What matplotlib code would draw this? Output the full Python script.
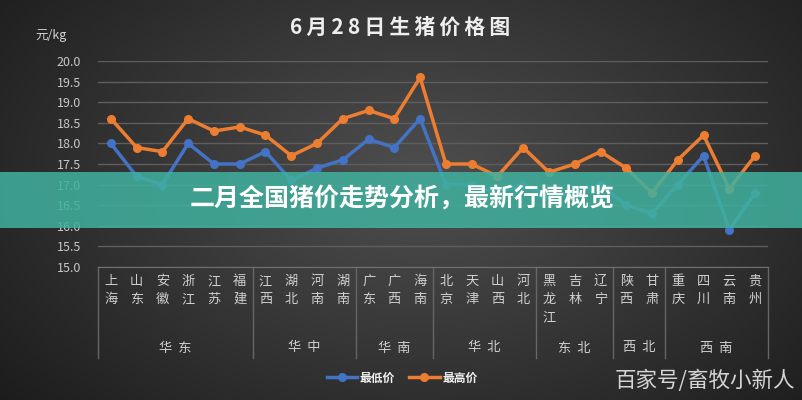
import matplotlib
matplotlib.use("Agg")
import matplotlib.pyplot as plt
import matplotlib.transforms as mtransforms
from matplotlib.lines import Line2D
from matplotlib.patches import Rectangle
import numpy as np

plt.rcParams['font.family'] = ['Noto Sans CJK SC', 'DejaVu Sans']

# Data
provinces = ["上海", "山东", "安徽", "浙江", "江苏", "福建",
             "江西", "湖北", "河南", "湖南",
             "广东", "广西", "海南",
             "北京", "天津", "山西", "河北",
             "黑龙江", "吉林", "辽宁",
             "陕西", "甘肃",
             "重庆", "四川", "云南", "贵州"]
groups = ["华 东", "华 中", "华 南", "华 北", "东 北", "西 北", "西 南"]
group_sizes = [6, 4, 3, 4, 3, 2, 4]
low_price = [18.0, 17.2, 17.0, 18.0, 17.5, 17.5, 17.8, 17.1, 17.4, 17.6,
             18.1, 17.9, 18.6, 17.0, 17.0, 16.8, 17.0, 16.7, 16.8, 17.0,
             16.5, 16.3, 17.0, 17.7, 15.9, 16.8]
high_price = [18.6, 17.9, 17.8, 18.6, 18.3, 18.4, 18.2, 17.7, 18.0, 18.6,
              18.8, 18.6, 19.6, 17.5, 17.5, 17.2, 17.9, 17.3, 17.5, 17.8,
              17.4, 16.8, 17.6, 18.2, 16.9, 17.7]
y_ticks = [15.0, 15.5, 16.0, 16.5, 17.0, 17.5, 18.0, 18.5, 19.0, 19.5, 20.0]

W, H = 803, 400
fig = plt.figure(figsize=(W / 100, H / 100), dpi=100)

# dark radial background
bg = fig.add_axes([0, 0, 1, 1], zorder=-10)
yy, xx = np.mgrid[0:H, 0:W]
r = np.sqrt(((xx - 420) / 520.0) ** 2 + ((yy - 180) / 330.0) ** 2)
shade = np.clip(0.31 - 0.19 * r, 0.1, 0.31)
bg.imshow(np.dstack([shade, shade, shade]), aspect='auto', extent=[0, 1, 0, 1])
bg.set_axis_off()

# main chart
ax = fig.add_axes([98 / W, (H - 267) / H, 670 / W, 206 / H])
ax.patch.set_alpha(0)
x = np.arange(len(provinces))
blue, orange = "#4472c4", "#ed7d31"
ax.plot(x, low_price, color=blue, lw=2.5, marker='o', ms=5.5, label="最低价", zorder=3)
ax.plot(x, high_price, color=orange, lw=2.5, marker='o', ms=5.5, label="最高价", zorder=3)

ax.set_xlim(-0.5, len(provinces) - 0.5)
ax.set_ylim(15, 20)
ax.set_yticks(y_ticks)
ax.set_yticklabels([f"{v:.1f}" for v in y_ticks])
ax.tick_params(axis='y', length=0, pad=12, labelsize=9, labelcolor="#c8c8c8")
ax.set_xticks([])
for s in ["top", "right", "left"]:
    ax.spines[s].set_visible(False)
ax.spines["bottom"].set_color("#707070")
ax.grid(axis='y', color="#5e5e5e", lw=1)
ax.set_axisbelow(True)

# category table under the axis
trans = mtransforms.blended_transform_factory(ax.transData, ax.transAxes)
bottom = -(358 - 267) / 206
for i, name in enumerate(provinces):
    ax.text(i, -(275 - 267) / 206, "\n".join(name), transform=trans, ha='center',
            va='top', fontsize=9.5, color="#d0d0d0", linespacing=1.5)
edges = np.concatenate([[0], np.cumsum(group_sizes)]) - 0.5
for e in edges:
    ax.plot([e, e], [0, bottom], transform=trans, color="#666666", lw=1, clip_on=False)
for g, a, b in zip(groups, edges[:-1], edges[1:]):
    ax.text((a + b) / 2, -(348 - 267) / 206, g.replace(" ", "  "), transform=trans,
            ha='center', va='center', fontsize=9.5, color="#d0d0d0")

# legend
handles = [Line2D([], [], color=blue, lw=2.5, marker='o', ms=5.5),
           Line2D([], [], color=orange, lw=2.5, marker='o', ms=5.5)]
leg = fig.legend(handles, ["最低价", "最高价"], loc='center', ncol=2,
                 bbox_to_anchor=(402 / W, 1 - 378 / H), frameon=False,
                 fontsize=8.5, handlelength=2.6, columnspacing=1.2, handletextpad=0.2)
for t in leg.get_texts():
    t.set_color("#f0f0f0")
    t.set_fontweight('bold')

# titles and texts
fig.text(400 / W, 1 - 27 / H, "\u2009".join("6月28日生猪价格图"), ha='center', va='center',
         fontsize=15, fontweight='bold', color="#eeeeee")
fig.text(35 / W, 1 - 35 / H, "元/kg", ha='left', va='center', fontsize=9, color="#d0d0d0")
fig.text(705 / W, 1 - 381 / H, "百家号/畜牧小新人", ha='center', va='center',
         fontsize=15.5, color="#d4d4d4", fontweight='light')

# teal banner
fig.patches.append(Rectangle((0, (H - 228) / H), 1, 56 / H, transform=fig.transFigure,
                             facecolor="#40b09e", alpha=0.86, edgecolor='none', zorder=5))
fig.text(190 / W, 1 - 199 / H, "二月全国猪价走势分析，最新行情概览", ha='left', va='center',
         fontsize=18, fontweight='black', color="white", zorder=6)

fig.savefig("out.png", dpi=100)
